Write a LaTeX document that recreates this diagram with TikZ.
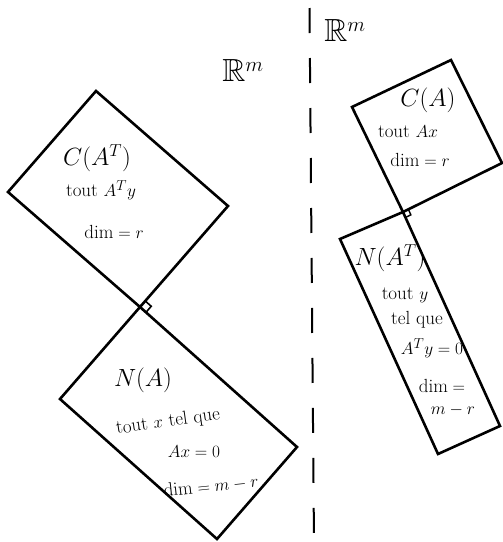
\documentclass[tikz,border=0pt]{standalone}
\usepackage{amsmath, amssymb}
\usepackage{tikz}
\usetikzlibrary{angles,calc}

\tikzset{
  subspace/.style={line width=2.6pt, line join=miter},
  ttl/.style={font=\fontsize{24}{26}\selectfont, inner sep=1pt},
  txt/.style={font=\fontsize{19}{21}\selectfont, inner sep=0pt},
  space/.style={font=\fontsize{32}{34}\selectfont, inner sep=1pt}
}

\begin{document}
\begin{tikzpicture}[x=1pt,y=-1pt]
    \useasboundingbox (0,0) rectangle (503,542);

    % left: C(A^T) and N(A)
    \coordinate (CT) at (96,91);
    \coordinate (CR) at (228,206);
    \coordinate (CB) at (140,307);
    \coordinate (CL) at (8,192);
    \coordinate (NR) at (297,447);
    \coordinate (NB) at (217,539);
    \coordinate (NL) at (60,399);

    % right: C(A) and N(A^T)
    \coordinate (AL) at (352,107);
    \coordinate (AT) at (451,60);
    \coordinate (AR) at (502,163);
    \coordinate (AB) at (403,212);
    \coordinate (ML) at (340,239);
    \coordinate (MR) at (500,426);
    \coordinate (MB) at (438,454);

    \draw[subspace] (CT) -- (CR) -- (CB) -- (CL) -- cycle;
    \draw[subspace] (CB) -- (NR) -- (NB) -- (NL) -- cycle;
    \draw[subspace] (AL) -- (AT) -- (AR) -- (AB) -- cycle;
    \draw[subspace] (ML) -- (AB) -- (MR) -- (MB) -- cycle;

    \pic[draw, line width=1.6pt, angle radius=8pt] {right angle = CR--CB--NR};
    \pic[draw, line width=1.4pt, angle radius=6pt] {right angle = AR--AB--MR};

    % dashed separator
    \coordinate (top) at (309.5,8);
    \coordinate (bot) at (314,542);
    \draw[line width=2pt, dash pattern=on 25pt off 25pt] (top) -- (bot);

    \node[space] (Rn) at (243,70) {$\mathbb{R}^{m}$};
    \node[space] (Rm) at (345,30) {$\mathbb{R}^{m}$};

    \node[ttl] (cat) at (97,158) {$C(A^{T})$};
    \node[txt] (cat1) at (101,190) {tout $A^{T}y$};
    \node[txt] (cat2) at (114,232) {$\text{dim}=r$};

    \node[ttl] (na) at (143,380) {$N(A)$};
    \node[txt, rotate=8] (na1) at (168,422) {tout $x$ tel que};
    \node[txt] (na2) at (194,452) {$Ax=0$};
    \node[txt, rotate=6] (na3) at (211,486) {$\text{dim}=m-r$};

    \node[ttl] (ca) at (428,100) {$C(A)$};
    \node[txt] (ca1) at (408,132) {tout $Ax$};
    \node[txt] (ca2) at (420,160) {$\text{dim}=r$};

    \node[ttl] (nat) at (390,258) {$N(A^{T})$};
    \node[txt] (nat1) at (405,295) {tout $y$};
    \node[txt] (nat2) at (417,320) {tel que};
    \node[txt] (nat3) at (432,348) {$A^{T}y=0$};
    \node[txt] (nat4) at (442,386) {$\text{dim}=$};
    \node[txt] (nat5) at (453,410) {$m-r$};
\end{tikzpicture}
\end{document}
